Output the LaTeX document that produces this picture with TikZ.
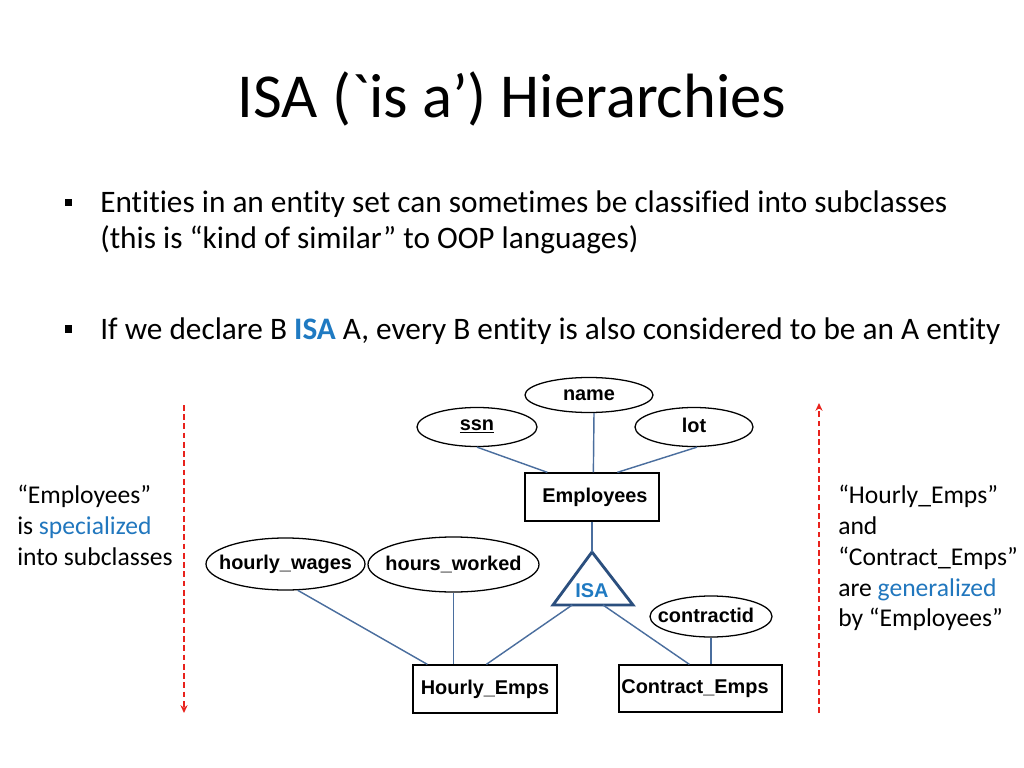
\documentclass[tikz,border=0pt]{standalone}
\usepackage{fontspec}
\setmainfont{Carlito}[Ligatures=NoCommon]
\newfontfamily\titlefont{Carlito}[Ligatures=NoCommon]
\newfontfamily\arialf{Liberation Sans}
\usetikzlibrary{shapes.geometric,calc,arrows.meta}
\definecolor{connc}{HTML}{4A6E9E}
\definecolor{tric}{HTML}{2B4F7E}
\definecolor{isablue}{HTML}{1F7AC2}
\definecolor{wordblue}{HTML}{2177BE}
\definecolor{dashred}{HTML}{E8221C}
\newcommand\pxu{0.703125pt}
\newcommand\zw[1]{\makebox[0pt]{#1}}
\tikzset{
  attr/.style={ellipse, draw=black, line width=0.9pt, inner sep=0pt,
    font=\arialf\bfseries\fontsize{14}{16}\selectfont},
  ent/.style={rectangle, draw=black, line width=0.9pt, inner sep=0pt,
    font=\arialf\bfseries\fontsize{14}{16}\selectfont},
  conn/.style={draw=connc, line width=1pt},
  isatri/.style={draw=tric, line width=2pt, line join=miter},
  bodytxt/.style={font=\fontsize{22}{26}\selectfont, anchor=base west, inner sep=0pt},
  sidetxt/.style={font=\fontsize{18}{22}\selectfont, anchor=base west, inner sep=0pt},
  bulletsq/.style={fill=black, minimum size=7*\pxu, inner sep=0pt},
  redarrow/.style={draw=dashred, line width=1pt, dash pattern=on 4pt off 2.5pt,
    -{Stealth[length=5.5pt,width=5pt]}},
}
\begin{document}
\begin{tikzpicture}[x=0.703125pt, y=-0.703125pt]
\useasboundingbox (0,0) rectangle (1024,768);
\fill[white] (0,0) rectangle (1024,768);

% title
\node[font=\titlefont\fontsize{44}{53}\selectfont, anchor=base, inner sep=0pt] (title) at (512,118) {ISA (`is a’) Hierarchies};

% bullets
\node[bulletsq] (b1) at (68,203) {};
\node[bodytxt] (t1) at (100,213) {Entities in an entity set can sometimes be classified into subclasses};
\node[bodytxt] (t2) at (100,249) {(this is “kind of similar” to OOP languages)};
\node[bulletsq] (b2) at (68,329) {};
\node[bodytxt] (t3) at (100,340) {If we declare B {\bfseries\color{isablue}ISA} A, every B entity is also considered to be an A entity};

% side texts
\node[sidetxt] (l1) at (17,503) {“Employees”};
\node[sidetxt] (l2) at (17,534) {is {\color{wordblue}specialized}};
\node[sidetxt] (l3) at (17,565) {into subclasses};

\node[sidetxt] (r1) at (838,503) {“Hourly\_Emps”};
\node[sidetxt] (r2) at (838,534) {and};
\node[sidetxt] (r3) at (838,565) {“Contract\_Emps”};
\node[sidetxt] (r4) at (838,596) {are {\color{wordblue}generalized}};
\node[sidetxt] (r5) at (838,626) {by “Employees”};

% dashed arrows
\coordinate (la) at (184,405);
\coordinate (lb) at (184,713);
\coordinate (ra) at (819,713);
\coordinate (rb) at (819,403);
\draw[redarrow] (la) -- (lb);
\draw[redarrow] (ra) -- (rb);

% ER diagram
\node[attr, minimum width=128*\pxu, minimum height=35*\pxu] (name) at (589,395) {\zw{name}};
\node[attr, minimum width=120*\pxu, minimum height=39*\pxu] (ssn) at (477,427) {\zw{\raisebox{3pt}{\underline{ssn}}}};
\node[attr, minimum width=118*\pxu, minimum height=39*\pxu] (lot) at (694,427) {\zw{\raisebox{2pt}{lot}}};
\node[ent, minimum width=134*\pxu, minimum height=48*\pxu] (emp) at (592,497) {\zw{\hspace{4.2pt}Employees}};

\node[attr, minimum width=159*\pxu, minimum height=52*\pxu] (hw) at (285.5,564) {\zw{hourly\_wages}};
\node[attr, minimum width=171*\pxu, minimum height=55*\pxu] (hwk) at (453.5,564.5) {\zw{\raisebox{1.4pt}{hours\_worked}}};
\node[attr, minimum width=122*\pxu, minimum height=41*\pxu] (cid) at (711,616.5) {\zw{\hspace{-7pt}\raisebox{2pt}{contractid}}};
\node[ent, minimum width=144*\pxu, minimum height=48*\pxu] (he) at (485,689) {\zw{\raisebox{-2.5pt}{Hourly\_Emps}}};
\node[ent, minimum width=163*\pxu, minimum height=47*\pxu] (ce) at (700.5,688.5) {\zw{\hspace{-7.7pt}\raisebox{0.7pt}{Contract\_Emps}}};

% ISA triangle
\coordinate (isatop) at (592,552);
\coordinate (isabl) at (553,605);
\coordinate (isabr) at (633,605);
\draw[isatri] (isatop) -- (isabl) -- (isabr) -- cycle;
\node[font=\arialf\bfseries\fontsize{14}{16}\selectfont, text=isablue, inner sep=0pt] (isa) at (592,591) {ISA};

% connectors
\draw[conn] (ssn.south) -- ($(emp.north west)+(23,0)$);
\draw[conn] ($(name.south)+(5,0)$) -- ($(emp.north west)+(69,0)$);
\draw[conn] ($(lot.south)+(3,0)$) -- ($(emp.north west)+(93,0)$);
\draw[conn] (emp.south) -- (isatop);
\draw[conn] ($(isabl)!0.24!(isabr)$) -- ($(he.north west)+(74,0)$);
\draw[conn] ($(isabl)!0.625!(isabr)$) -- ($(ce.north west)+(71,0)$);
\draw[conn] (hw.-65) -- ($(he.north west)+(15,0)$);
\draw[conn] (hwk.south) -- (hwk.south |- he.north);
\draw[conn] (cid.south) -- (cid.south |- ce.north);
\end{tikzpicture}
\end{document}
